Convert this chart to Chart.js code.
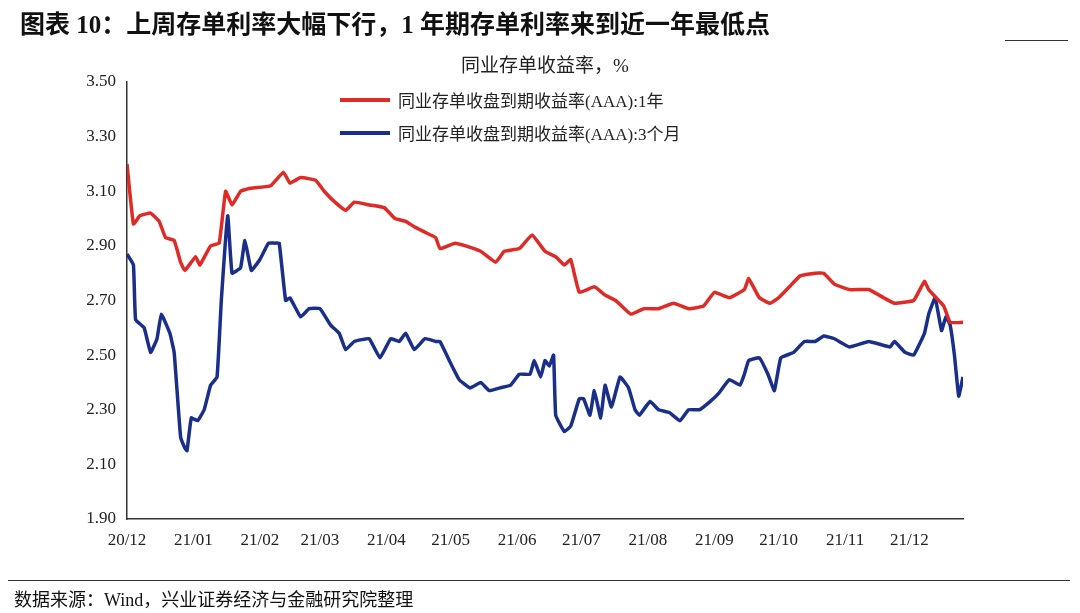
<!DOCTYPE html>
<html>
<head>
<meta charset="utf-8">
<script src="https://cdn.jsdelivr.net/npm/chart.js@4/dist/chart.umd.min.js"></script>
<style>
  body { margin: 0; background: #fff; width: 1080px; height: 613px; position: relative; overflow: hidden; font-family: "Liberation Serif", "Noto Sans CJK SC", serif; }
  #title { position: absolute; left: 20px; top: 4px; font-size: 25px; font-weight: bold; color: #111; font-family: "Liberation Serif", "Noto Sans CJK SC", serif; }
  .rule { position: absolute; height: 1px; background: #333; }
  #sub { position: absolute; left: 0; width: 1090px; text-align: center; top: 50px; font-size: 19px; color: #222; }
  #legend { position: absolute; left: 340px; top: 83px; font-size: 17px; color: #222; }
  #legend div { height: 33px; display: flex; align-items: center; }
  #legend span.sw { display: inline-block; width: 50px; height: 4px; margin-right: 8px; }
  #source { position: absolute; left: 14px; top: 585px; font-size: 18px; color: #111; }
  #wrap { position: absolute; left: 0; top: 0; width: 1080px; height: 613px; }
</style>
</head>
<body>
<div id="wrap"><canvas id="c" width="1080" height="613"></canvas></div>
<div id="title">图表 10：上周存单利率大幅下行，1 年期存单利率来到近一年最低点</div>
<div class="rule" style="left:1005px;width:63px;top:40px"></div>
<div id="sub">同业存单收益率，%</div>
<div id="legend">
  <div><span class="sw" style="background:#e02a26"></span>同业存单收盘到期收益率(AAA):1年</div>
  <div><span class="sw" style="background:#1a2f8a"></span>同业存单收盘到期收益率(AAA):3个月</div>
</div>
<div class="rule" style="left:8px;width:1062px;top:580px"></div>
<div id="source">数据来源：Wind，兴业证券经济与金融研究院整理</div>
<script>
// days since 2020-12-01
const oneYearDays = [0,3,6,11,15,18,22,25,27,32,34,39,43,46,49,53,57,67,73,76,81,88,92,97,102,106,113,120,125,130,134,139,144,146,153,158,165,172,176,183,189,195,200,204,207,211,218,223,228,235,241,248,255,262,269,274,281,288,290,295,300,304,309,314,321,325,330,337,346,353,358,367,372,374,381,384,390];
const oneYear = [3.20,2.98,3.01,3.02,2.99,2.93,2.92,2.84,2.81,2.86,2.83,2.90,2.91,3.10,3.05,3.10,3.11,3.12,3.17,3.13,3.15,3.14,3.10,3.06,3.03,3.06,3.05,3.04,3.00,2.99,2.97,2.95,2.93,2.89,2.91,2.90,2.88,2.84,2.88,2.89,2.94,2.88,2.86,2.83,2.85,2.73,2.75,2.72,2.70,2.65,2.67,2.67,2.69,2.67,2.68,2.73,2.71,2.74,2.78,2.71,2.69,2.71,2.75,2.79,2.80,2.80,2.76,2.74,2.74,2.71,2.69,2.70,2.77,2.74,2.68,2.62,2.62];

const threeMonthDays = [0,3,4,8,11,14,16,20,22,25,27,28,30,33,36,39,42,44,47,49,53,55,58,62,66,69,71,74,76,81,85,90,95,99,102,106,113,118,123,127,130,134,139,144,146,151,155,160,165,169,174,179,183,188,190,193,195,197,199,200,204,207,211,213,216,218,221,223,226,230,234,237,239,244,248,253,258,262,267,272,276,281,286,288,290,295,299,302,305,311,316,321,325,330,337,346,356,358,363,367,372,374,377,380,382,384,386,388,390];
const threeMonth = [2.87,2.83,2.63,2.60,2.51,2.56,2.65,2.58,2.51,2.20,2.16,2.15,2.27,2.26,2.30,2.39,2.42,2.70,3.01,2.80,2.82,2.92,2.81,2.85,2.91,2.91,2.91,2.70,2.71,2.64,2.67,2.67,2.61,2.58,2.52,2.55,2.56,2.49,2.56,2.55,2.58,2.52,2.56,2.55,2.55,2.47,2.41,2.38,2.40,2.37,2.38,2.39,2.43,2.43,2.48,2.42,2.48,2.46,2.50,2.28,2.22,2.24,2.34,2.34,2.28,2.37,2.27,2.39,2.31,2.42,2.38,2.30,2.28,2.33,2.30,2.29,2.26,2.30,2.30,2.33,2.36,2.41,2.39,2.43,2.48,2.49,2.43,2.37,2.49,2.51,2.55,2.55,2.57,2.56,2.53,2.55,2.53,2.55,2.51,2.50,2.58,2.65,2.71,2.59,2.64,2.61,2.50,2.35,2.42,2.43];

const monthDays = [0,31,62,90,121,151,182,212,243,274,304,335,365];
const monthLabels = ["20/12","21/01","21/02","21/03","21/04","21/05","21/06","21/07","21/08","21/09","21/10","21/11","21/12"];
const yTicks = [1.9,2.1,2.3,2.5,2.7,2.9,3.1,3.3,3.5];

const toPts = (xs, ys) => xs.map((d, i) => ({ x: d, y: ys[i] }));
const serif = { family: "'Liberation Serif', serif", size: 17 };

new Chart(document.getElementById("c"), {
  type: "line",
  data: {
    datasets: [
      { data: toPts(oneYearDays, oneYear), borderColor: "#e02a26", borderWidth: 3.5, pointRadius: 0, tension: 0.1 },
      { data: toPts(threeMonthDays, threeMonth), borderColor: "#1a2f8a", borderWidth: 3.5, pointRadius: 0, tension: 0.1 },
    ],
  },
  options: {
    responsive: false,
    animation: false,
    devicePixelRatio: 1,
    layout: { padding: { left: 67, right: 117, top: 82, bottom: 64 } },
    plugins: { legend: { display: false }, tooltip: { enabled: false } },
    scales: {
      x: {
        type: "linear", min: 0, max: 390,
        grid: { display: false },
        border: { color: "#333", width: 1.5 },
        afterBuildTicks: s => { s.ticks = monthDays.map(v => ({ value: v })); },
        afterFit: s => { s.height = 30; },
        ticks: { autoSkip: false, maxRotation: 0, color: "#222", font: serif,
          callback: v => monthLabels[monthDays.indexOf(v)] },
      },
      y: {
        min: 1.9, max: 3.5,
        grid: { display: false },
        border: { color: "#333", width: 1.5 },
        afterBuildTicks: s => { s.ticks = yTicks.map(v => ({ value: v })); },
        afterFit: s => { s.width = 60; },
        ticks: { color: "#222", font: serif, callback: v => v.toFixed(2) },
      },
    },
  },
});
</script>
</body>
</html>
